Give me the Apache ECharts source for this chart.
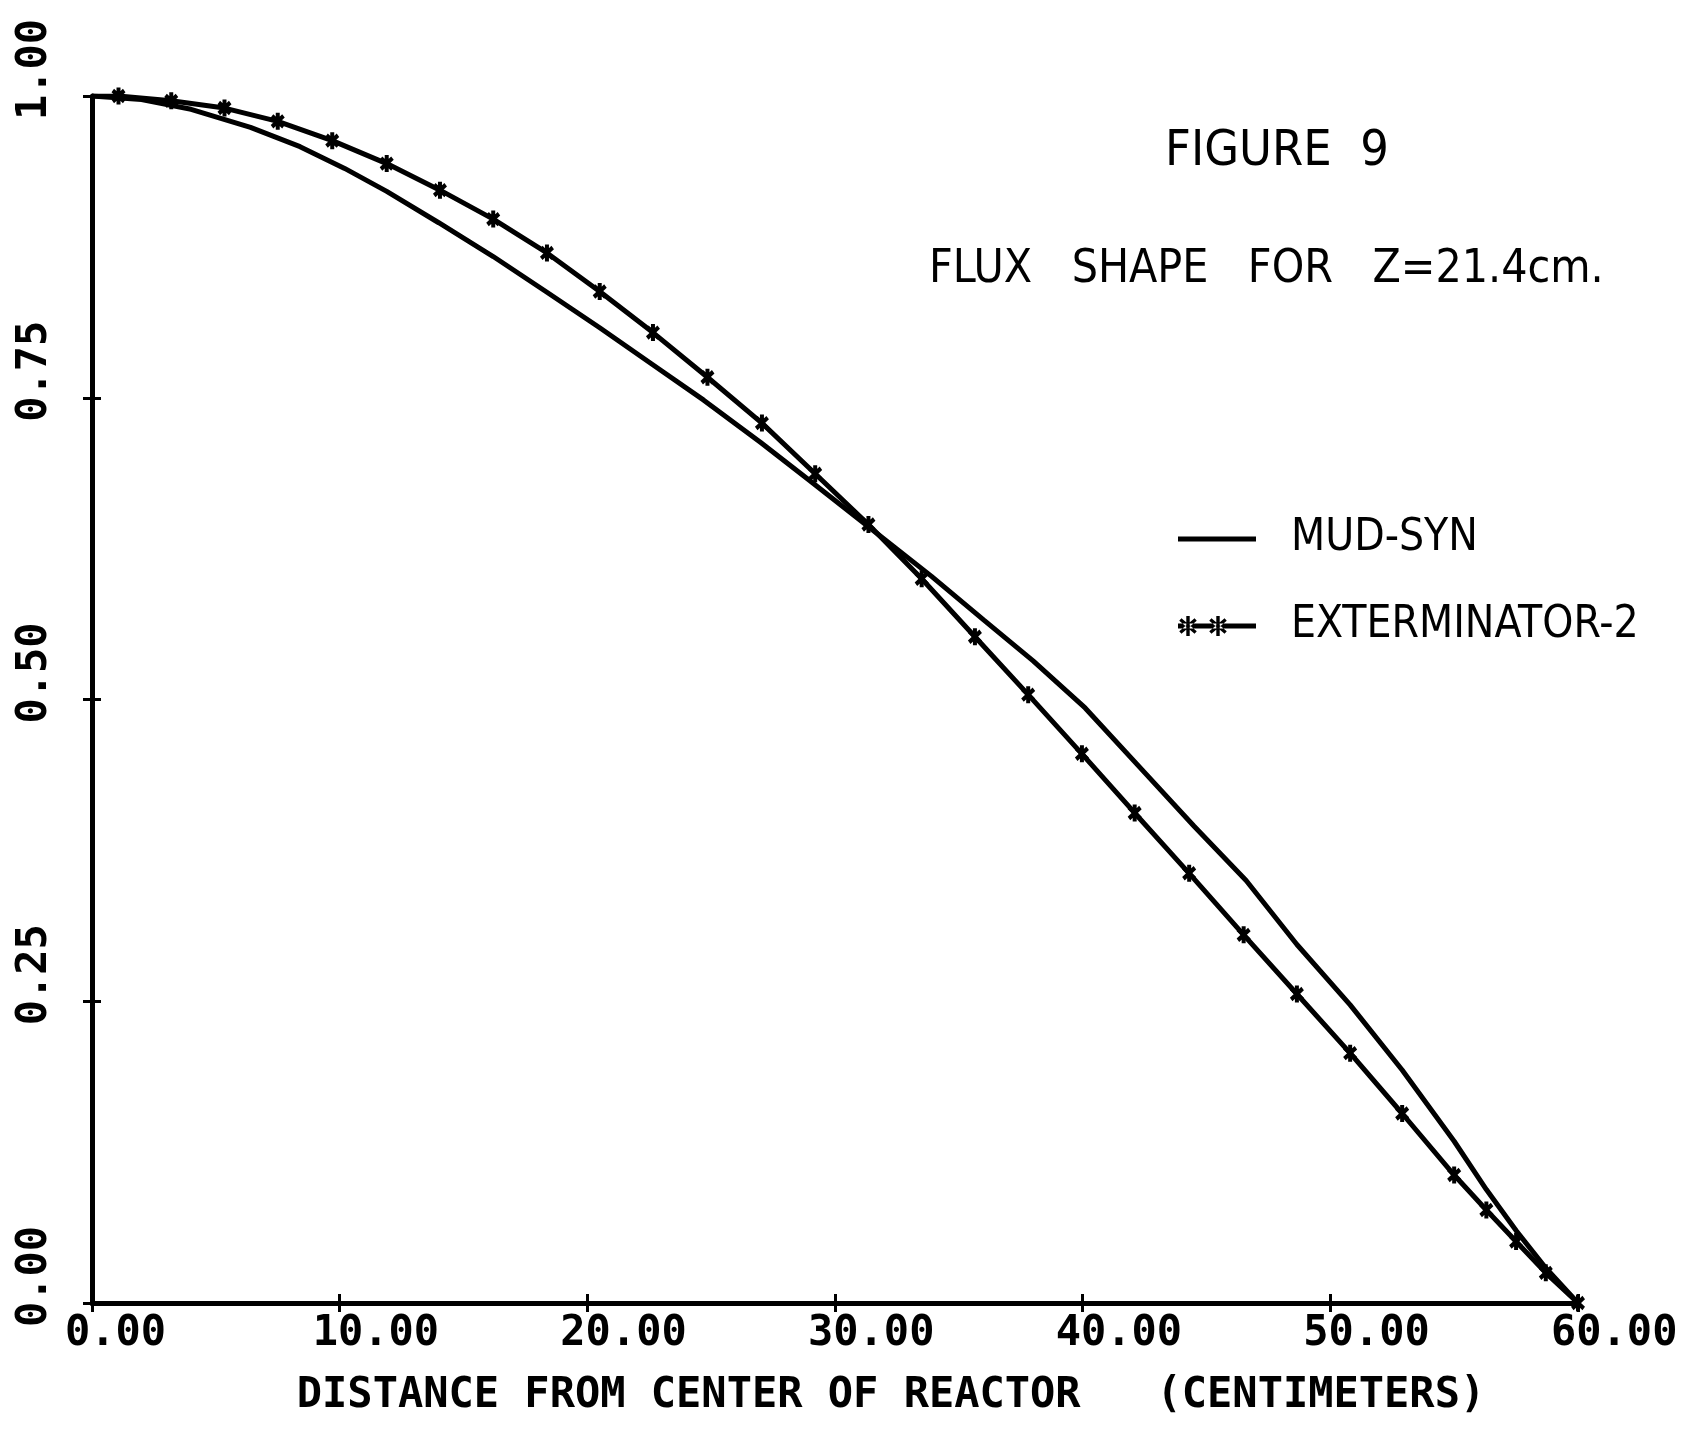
<!DOCTYPE html>
<html>
<head>
<meta charset="utf-8">
<title>FIGURE 9 - FLUX SHAPE</title>
<script src="https://cdn.jsdelivr.net/npm/echarts@6/dist/echarts.min.js"></script>
<style>
html, body { margin: 0; padding: 0; background: #fff; }
#chart { width: 1685px; height: 1431px; }
</style>
</head>
<body>
<div id="chart"></div>
<script>
// distance from center (cm) vs normalised flux
var mudX= [0, 2.0, 4.0, 6.4, 8.4, 10.2, 11.9, 14.0, 16.2, 18.4, 20.5, 22.6, 24.7, 27.0, 29.0, 31.3, 33.9, 36.0, 38.0, 40.1, 42.3, 44.5, 46.6, 48.65, 50.8, 52.9, 55.0, 56.3, 57.5, 58.7, 60.0];
var mudY= [1.0, 0.997, 0.989, 0.974, 0.958, 0.940, 0.921, 0.895, 0.867, 0.837, 0.808, 0.778, 0.748, 0.713, 0.681, 0.644, 0.602, 0.566, 0.532, 0.493, 0.444, 0.395, 0.350, 0.297, 0.247, 0.193, 0.134, 0.094, 0.060, 0.029, 0.0];
var extX= [0, 1.07, 3.2, 5.35, 7.5, 9.7, 11.9, 14.05, 16.2, 18.37, 20.5, 22.65, 24.85, 27.05, 29.2, 31.35, 33.5, 35.65, 37.8, 39.97, 42.1, 44.3, 46.5, 48.65, 50.8, 52.9, 55.0, 56.3, 57.5, 58.7, 60.0];
var extY= [1.0, 1.0, 0.996, 0.990, 0.979, 0.963, 0.944, 0.922, 0.898, 0.870, 0.838, 0.804, 0.767, 0.729, 0.687, 0.645, 0.600, 0.552, 0.504, 0.455, 0.406, 0.356, 0.305, 0.256, 0.207, 0.157, 0.106, 0.077, 0.051, 0.025, 0.0];
var xTicks= [0, 10, 20, 30, 40, 50, 60];
var yTicks= [0, 0.25, 0.50, 0.75, 1.00];
var seriesNames= ['MUD-SYN', 'EXTERMINATOR-2'];

var labelFont= 'DejaVu Sans Mono';
var textFont= '"Liberation Sans Narrow", "DejaVu Sans Condensed", "DejaVu Sans"';

// one bar of the asterisk, ang measured from vertical
function bar(cx, cy, r, w, ang) {
	var dx= Math.sin(ang)* r, dy= -Math.cos(ang)* r;
	var px= Math.cos(ang)* w/ 2, py= Math.sin(ang)* w/ 2;
	var p= [[cx+ dx+ px, cy+ dy+ py], [cx+ dx- px, cy+ dy- py], [cx- dx- px, cy- dy- py], [cx- dx+ px, cy- dy+ py]];
	return 'M'+ p.map(function(q) { return q[0].toFixed(2)+ ','+ q[1].toFixed(2); }).join('L')+ 'Z';
}
function star(cx, cy, r, w) {
	var a= 50* Math.PI/ 180;
	return bar(cx, cy, r, w, 0)+ bar(cx, cy, r, w, a)+ bar(cx, cy, r, w, -a);
}

var starSymbol= 'path://'+ star(6, 6, 6, 3.2);
var mudIcon= 'path://M0,0L78,0L78,5L0,5Z';
var extIcon= 'path://M0,7.5L78,7.5L78,12.5L0,12.5Z'+ star(10, 10, 10, 3.4)+ star(40, 10, 10, 3.4);

var mudData= mudX.map(function(x, i) { return [x, mudY[i]]; });
var extData= extX.map(function(x, i) {
	// the curve leaves the axis without a mark
	return i=== 0? {value: [x, extY[i]], symbol: 'none'}: [x, extY[i]];
});

var chart= echarts.init(document.getElementById('chart'), null, {renderer: 'canvas'});

var tickStyle= {color: '#000', width: 3};
chart.setOption({
	backgroundColor: '#fff',
	animation: false,
	title: [{
		text: 'FIGURE  9',
		left: 1160, top: 122,
		textStyle: {fontFamily: textFont, fontWeight: 'normal', fontSize: 50, color: '#000'}
	}, {
		text: 'FLUX   SHAPE   FOR   Z=21.4cm.',
		left: 924, top: 242,
		textStyle: {fontFamily: textFont, fontWeight: 'normal', fontSize: 46, color: '#000'}
	}],
	legend: {
		orient: 'vertical',
		left: 1173, top: 512,
		itemWidth: 78, itemHeight: 20, itemGap: 43,
		symbolKeepAspect: true,
		textStyle: {fontFamily: textFont, fontSize: 44, color: '#000', padding: [0, 0, 0, 30]},
		data: [{name: seriesNames[0], icon: mudIcon}, {name: seriesNames[1], icon: extIcon}]
	},
	grid: {left: 92, right: 107, top: 96, bottom: 128, containLabel: false},
	xAxis: [{
		type: 'value', min: xTicks[0], max: xTicks[xTicks.length- 1], interval: xTicks[1]- xTicks[0],
		axisLine: {show: true, onZero: false, lineStyle: {color: '#000', width: 5}},
		axisTick: {show: true, length: 9, lineStyle: tickStyle},
		splitLine: {show: false},
		axisLabel: {
			formatter: function(v) { return v.toFixed(2); },
			color: '#000', fontFamily: labelFont, fontWeight: 'bold', fontSize: 42,
			margin: 10, align: 'left', padding: [0, 0, 0, -27]
		},
		name: 'DISTANCE FROM CENTER OF REACTOR   (CENTIMETERS)',
		nameLocation: 'middle', nameGap: 72,
		nameTextStyle: {color: '#000', fontFamily: labelFont, fontWeight: 'bold', fontSize: 42, padding: [0, 0, 0, 112]}
	}, {
		// inner half of the tick crosses
		type: 'value', position: 'bottom', min: xTicks[0], max: xTicks[xTicks.length- 1], interval: xTicks[1]- xTicks[0],
		axisLine: {show: false}, axisLabel: {show: false}, splitLine: {show: false},
		axisTick: {show: true, inside: true, length: 9, lineStyle: tickStyle}
	}],
	yAxis: [{
		type: 'value', min: yTicks[0], max: yTicks[yTicks.length- 1], interval: yTicks[1]- yTicks[0],
		axisLine: {show: true, onZero: false, lineStyle: {color: '#000', width: 5}},
		axisTick: {show: true, length: 9, lineStyle: tickStyle},
		splitLine: {show: false},
		axisLabel: {
			formatter: function(v) { return v.toFixed(2); },
			rotate: 90, color: '#000', fontFamily: labelFont, fontWeight: 'bold', fontSize: 42,
			margin: 36, align: 'left', verticalAlign: 'bottom', padding: [0, 0, 0, -24]
		}
	}, {
		type: 'value', position: 'left', min: yTicks[0], max: yTicks[yTicks.length- 1], interval: yTicks[1]- yTicks[0],
		axisLine: {show: false}, axisLabel: {show: false}, splitLine: {show: false},
		axisTick: {show: true, inside: true, length: 9, lineStyle: tickStyle}
	}],
	series: [{
		name: seriesNames[0], type: 'line', data: mudData,
		symbol: 'none',
		lineStyle: {color: '#000', width: 5},
		itemStyle: {color: '#000'}
	}, {
		name: seriesNames[1], type: 'line', data: extData,
		symbol: starSymbol, symbolSize: [14, 17], showSymbol: true,
		lineStyle: {color: '#000', width: 5},
		itemStyle: {color: '#000'}
	}]
});
</script>
</body>
</html>
